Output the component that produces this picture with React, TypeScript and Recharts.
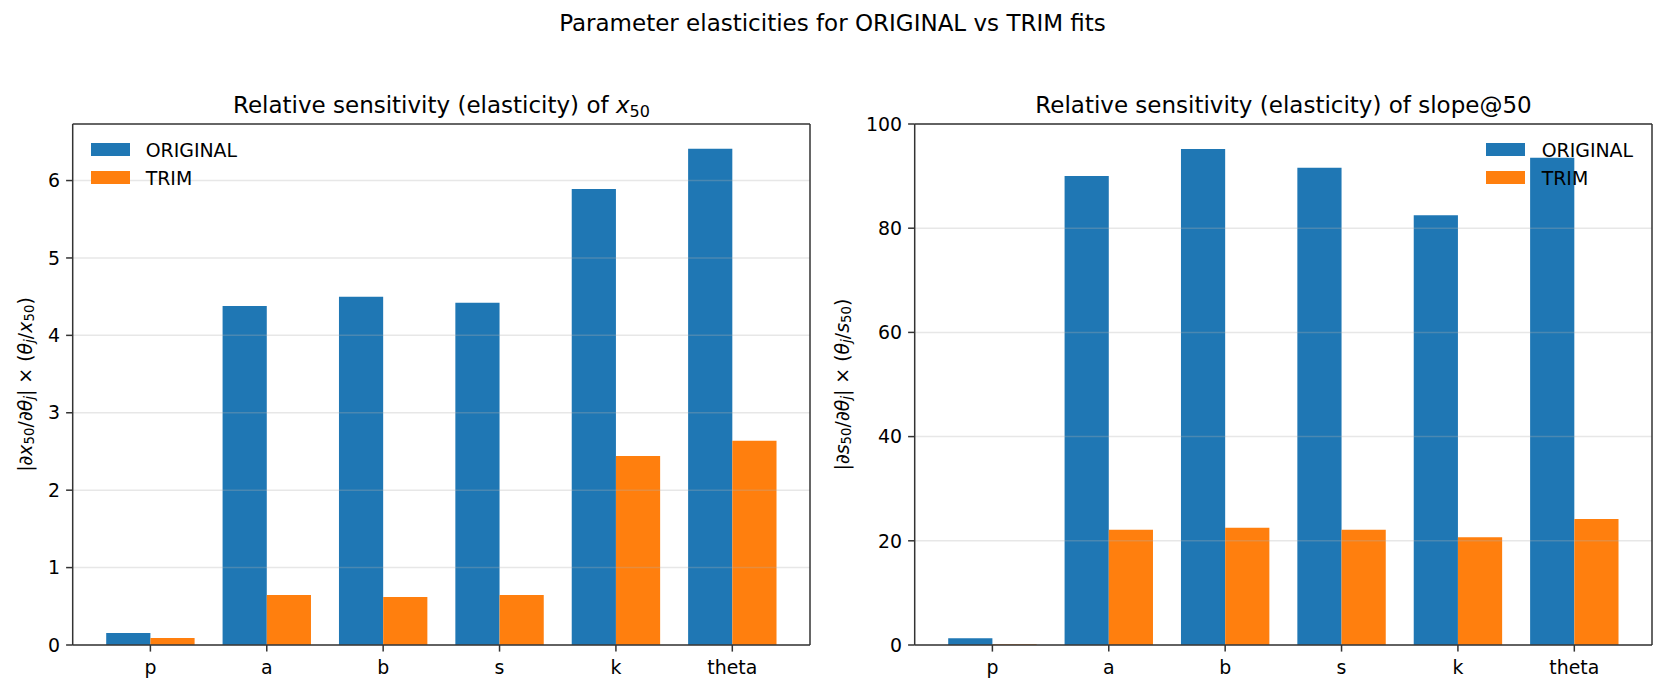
import React from 'react';
import { BarChart, Bar, XAxis, YAxis, ReferenceLine, Legend } from 'recharts';

// ---- data ----
const categories = ['p', 'a', 'b', 's', 'k', 'theta'];
const seriesNames = ['ORIGINAL', 'TRIM'];
const x50Original = [0.155, 4.38, 4.5, 4.42, 5.89, 6.41];
const x50Trim = [0.09, 0.645, 0.62, 0.645, 2.44, 2.64];
const slopeOriginal = [1.3, 90.0, 95.2, 91.6, 82.5, 93.5];
const slopeTrim = [0.15, 22.1, 22.5, 22.1, 20.7, 24.2];
const x50Ticks = [0, 1, 2, 3, 4, 5, 6];
const slopeTicks = [0, 20, 40, 60, 80, 100];

const x50Data = categories.map((c, i) => ({ param: c, [seriesNames[0]]: x50Original[i], [seriesNames[1]]: x50Trim[i] }));
const slopeData = categories.map((c, i) => ({ param: c, [seriesNames[0]]: slopeOriginal[i], [seriesNames[1]]: slopeTrim[i] }));

// ---- style ----
const FONT = '"DejaVu Sans", Verdana, sans-serif';
const TICK_FS = 18.9;
const TITLE_FS = 23;
const SUB_FS = 13.4;
const SPINE = '#333333';
const COLORS = ['#1f77b4', '#ff7f0e'];
const H = 692;

const makeLegend = (gap: number) => (props: any) => {
  const payload = props.payload || [];
  return (
    <div style={{ fontFamily: FONT, fontSize: TICK_FS, color: '#000' }}>
      {payload.map((e: any) => (
        <div key={e.value} style={{ display: 'flex', alignItems: 'center', height: 28, whiteSpace: 'nowrap' }}>
          <span style={{ display: 'inline-block', width: 39, height: 13, background: e.color, marginRight: gap }} />
          <span style={{ lineHeight: '28px' }}>{e.value}</span>
        </div>
      ))}
    </div>
  );
};

type PanelProps = {
  data: any[];
  domain: [number, number];
  ticks: number[];
  left: number;
  width: number;
  marginRight: number;
  legendLeft: number;
  legendGap: number;
};

function Panel({ data, domain, ticks, left, width, marginRight, legendLeft, legendGap }: PanelProps) {
  const spine = { stroke: SPINE, strokeWidth: 1.5 };
  const tickStyle = { fontFamily: FONT, fontSize: TICK_FS, fill: '#000' };
  return (
    <div style={{ position: 'absolute', left, top: 0 }}>
      <BarChart
        width={width}
        height={H}
        data={data}
        margin={{ top: 123, right: marginRight - 1, bottom: 7, left: 12.7 }}
        barGap={0}
        barSize={44.2}
      >
        <XAxis
          dataKey="param"
          height={40}
          padding={{ left: 19.5, right: 19.5 }}
          tickSize={6.6}
          tickMargin={9}
          interval={0}
          tick={tickStyle}
          tickLine={spine}
          axisLine={spine}
        />
        <XAxis
          xAxisId="top"
          dataKey="param"
          orientation="top"
          height={1}
          padding={{ left: 19.5, right: 19.5 }}
          tick={false}
          tickLine={false}
          axisLine={spine}
        />
        <YAxis
          type="number"
          domain={domain}
          ticks={ticks}
          allowDataOverflow
          interval={0}
          width={60}
          tickSize={6.6}
          tickMargin={6.1}
          tick={tickStyle}
          tickLine={spine}
          axisLine={spine}
        />
        <YAxis
          yAxisId="right"
          type="number"
          orientation="right"
          domain={domain}
          allowDataOverflow
          width={1}
          tick={false}
          tickLine={false}
          axisLine={spine}
        />
        <Bar dataKey={seriesNames[0]} fill={COLORS[0]} isAnimationActive={false} />
        <Bar dataKey={seriesNames[1]} fill={COLORS[1]} isAnimationActive={false} />
        {ticks.map((t) => (
          <ReferenceLine key={t} y={t} stroke="#b0b0b0" strokeOpacity={0.3} strokeWidth={1.5} />
        ))}
        <Legend
          content={makeLegend(legendGap)}
          layout="horizontal"
          verticalAlign="middle"
          align="center"
          wrapperStyle={{ left: legendLeft, top: 135.7, width: 'auto', height: 'auto' }}
        />
      </BarChart>
    </div>
  );
}

export default function App() {
  const S = 4;
  const yLabel = (v: string, cx: number) => (
    <text
      transform={`translate(${cx},384.5) rotate(-90)`}
      textAnchor="middle"
      dominantBaseline="central"
      fontSize={TICK_FS}
      fill="#000"
    >
      <tspan>|∂</tspan>
      <tspan fontStyle="italic">{v}</tspan>
      <tspan fontSize={SUB_FS} dy={S}>50</tspan>
      <tspan dy={-S}>/∂</tspan>
      <tspan fontStyle="italic">θ</tspan>
      <tspan fontStyle="italic" fontSize={SUB_FS} dy={S}>j</tspan>
      <tspan dy={-S}>| × (</tspan>
      <tspan fontStyle="italic">θ</tspan>
      <tspan fontStyle="italic" fontSize={SUB_FS} dy={S}>j</tspan>
      <tspan dy={-S}>/</tspan>
      <tspan fontStyle="italic">{v}</tspan>
      <tspan fontSize={SUB_FS} dy={S}>50</tspan>
      <tspan dy={-S}>)</tspan>
    </text>
  );
  return (
    <div
      style={{
        position: 'absolute',
        left: 0,
        top: 0,
        width: 1665,
        height: H,
        background: '#fff',
        overflow: 'hidden',
        fontFamily: FONT,
      }}
    >
      <Panel
        data={x50Data}
        domain={[0, 6.7305]}
        ticks={x50Ticks}
        left={0}
        width={830}
        marginRight={20}
        legendLeft={91}
        legendGap={15.7}
      />
      <Panel
        data={slopeData}
        domain={[0, 100]}
        ticks={slopeTicks}
        left={842}
        width={823}
        marginRight={13}
        legendLeft={644}
        legendGap={16.7}
      />
      <svg
        width={1665}
        height={H}
        style={{ position: 'absolute', left: 0, top: 0, pointerEvents: 'none' }}
        fontFamily={FONT}
      >
        <text x={832.5} y={31} textAnchor="middle" fontSize={TITLE_FS} fill="#000">
          Parameter elasticities for ORIGINAL vs TRIM fits
        </text>
        <text x={441.4} y={112.7} textAnchor="middle" fontSize={TITLE_FS} fill="#000">
          <tspan>Relative sensitivity (elasticity) of </tspan>
          <tspan fontStyle="italic">x</tspan>
          <tspan fontSize={16} dy={4}>50</tspan>
        </text>
        <text x={1283.5} y={112.7} textAnchor="middle" fontSize={TITLE_FS} fill="#000">
          Relative sensitivity (elasticity) of slope@50
        </text>
        {yLabel('x', 25)}
        {yLabel('s', 841.7)}
      </svg>
    </div>
  );
}
